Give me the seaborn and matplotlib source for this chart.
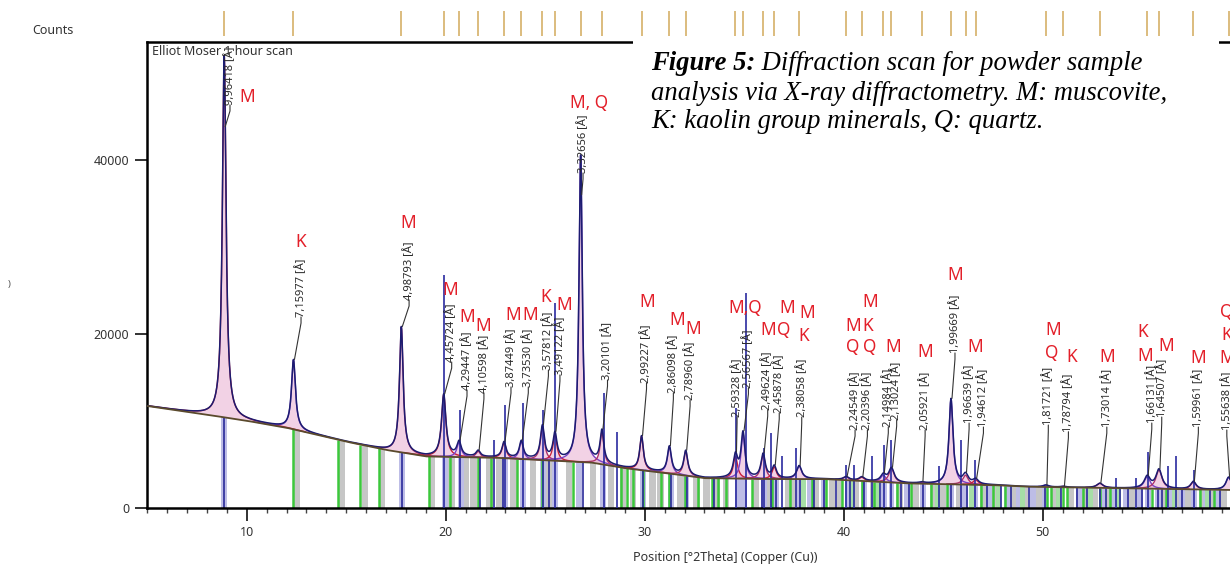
import numpy as np
import matplotlib
matplotlib.use("Agg")
import matplotlib.pyplot as plt
import seaborn as sns
from matplotlib.patches import Rectangle
from matplotlib.ticker import MultipleLocator
from matplotlib.transforms import blended_transform_factory

# ---------------- data ----------------
peak_2theta = [8.87, 12.35, 17.77, 19.90, 20.67, 21.63, 22.93, 23.80, 24.86, 25.49,
               26.78, 27.85, 29.84, 31.24, 32.06, 34.56, 34.94, 35.95, 36.51, 37.76,
               40.12, 40.91, 41.99, 42.40, 43.93, 45.39, 46.12, 46.63, 50.16, 51.04,
               52.87, 55.25, 55.84, 57.57, 59.34]
peak_counts = [52000, 17000, 20800, 13000, 7500, 6500, 7500, 7600, 9300, 8400,
               40500, 8700, 8200, 7000, 6500, 5900, 8500, 6100, 4700, 4800,
               3550, 3500, 3750, 4500, 2900, 12500, 3750, 3200, 2600, 2450,
               2800, 3550, 4350, 3000, 3500]
peak_fwhm = [0.22, 0.24, 0.22, 0.26, 0.26, 0.26, 0.24, 0.24, 0.24, 0.24,
             0.20, 0.22, 0.22, 0.24, 0.24, 0.26, 0.24, 0.26, 0.26, 0.30,
             0.32, 0.32, 0.32, 0.32, 0.32, 0.24, 0.32, 0.32, 0.32, 0.32,
             0.36, 0.36, 0.36, 0.32, 0.32]
d_spacing = ["9,96418", "7,15977", "4,98793", "4,45724", "4,29447", "4,10598",
             "3,87449", "3,73530", "3,57812", "3,49122", "3,32656", "3,20101",
             "2,99227", "2,86098", "2,78960", "2,59328", "2,56567", "2,49624",
             "2,45878", "2,38058", "2,24549", "2,20396", "2,14984", "2,13024",
             "2,05921", "1,99669", "1,96639", "1,94612", "1,81721", "1,78794",
             "1,73014", "1,66131", "1,64507", "1,59961", "1,55638"]

# background (2theta, counts)
bg_2theta = [5, 8, 10, 12, 15, 17, 19, 22.5, 25, 27.3, 29, 31, 33, 36, 39,
             41.5, 43.2, 47.5, 49.2, 54.2, 59.5]
bg_counts = [11700, 10700, 10000, 9200, 7600, 6650, 5900, 5750, 5450, 5200, 4550,
             4000, 3400, 3300, 3300, 3000, 2800, 2600, 2420, 2230, 2040]

# reference-pattern sticks
gray_sticks = [12.5, 14.8, 15.95, 16.8, 19.3, 20.3, 21.0, 21.4, 22.2, 22.7, 23.4,
               24.4, 25.2, 26.2, 27.4, 28.3, 28.9, 29.4, 30.4, 30.8, 31.8, 32.6,
               33.1, 33.6, 34.1, 35.6, 36.3, 37.2, 37.5, 38.6, 39.4, 39.8, 40.6,
               41.5, 42.8, 43.6, 44.5, 45.0, 45.8, 47.0, 47.6, 48.5, 49.1, 49.8,
               50.6, 51.4, 52.0, 52.6, 53.3, 54.5, 56.1, 56.8, 57.3, 58.0, 58.5, 59.1]
lav_sticks = [8.85, 17.8, 19.95, 20.75, 23.0, 23.9, 24.9, 25.5, 26.7, 27.9, 29.9,
              31.3, 32.1, 34.7, 35.0, 36.0, 36.6, 37.8, 38.3, 39.0, 40.2, 41.0,
              42.0, 42.4, 43.2, 44.0, 45.4, 46.1, 46.6, 47.3, 48.2, 48.8, 49.5,
              50.1, 51.8, 52.3, 53.0, 53.6, 54.2, 54.9, 55.3, 55.8, 56.5, 57.0,
              57.6, 58.2, 58.8]
lgreen_sticks = [38.0, 40.4, 41.7, 44.7, 46.4, 47.8, 49.0, 50.8, 52.4, 53.8, 56.6, 58.3]
green_sticks = [12.35, 14.6, 15.7, 16.66, 19.14, 20.2, 21.6, 22.26, 23.6, 24.86,
                26.4, 28.8, 29.1, 29.4, 29.9, 30.8, 31.2, 32.0, 32.7, 33.4, 33.7,
                34.1, 35.4, 36.4, 37.3, 38.4, 39.1, 39.9, 40.9, 41.5, 42.7, 43.4,
                44.4, 45.2, 46.9, 47.5, 48.1, 50.2, 50.4, 51.0, 51.2, 52.0, 52.9,
                53.4, 55.5, 56.2, 57.9, 58.6]
blue_low = [8.85, 17.8, 21.7, 22.9, 25.2, 26.9, 29.9, 31.3, 32.1, 33.5, 35.9, 36.6,
            37.8, 38.5, 39.0, 39.6, 40.3, 41.0, 41.8, 42.9, 43.3, 44.0, 45.4, 46.2,
            47.2, 47.9, 48.4, 49.3, 50.1, 50.9, 51.7, 52.2, 52.9, 53.2, 53.9, 54.3,
            55.0, 55.8, 56.0, 57.0, 58.4, 58.9]
blue_tall_2theta = [19.9, 20.7, 22.45, 23.0, 23.9, 24.9, 25.5, 27.95, 28.6, 34.6,
                    35.1, 36.0, 36.35, 36.9, 37.6, 40.1, 40.5, 41.4, 42.0, 42.4,
                    44.8, 45.9, 46.6, 53.7, 54.7, 55.3, 56.3, 56.7, 57.6]
blue_tall_counts = [26800, 11200, 7800, 11800, 12000, 11200, 23500, 13200, 8700, 11500,
                    24700, 6900, 8600, 5900, 6900, 4900, 4900, 5900, 7200, 7800,
                    4800, 7800, 5500, 3400, 3400, 6400, 4800, 5900, 4300]

# phase identification labels
phase_text = ["M", "K", "M", "M", "M", "M", "M", "M", "K", "M", "M, Q", "M", "M", "M",
              "M,Q", "M", "Q", "M", "M", "K", "M", "K", "M", "Q", "Q", "M", "M", "M",
              "M", "M", "Q", "K", "M", "K", "M", "M", "M", "Q", "K", "M"]

# ---------------- layout (annotation anchors, data coords) ----------------
label_x = [9.16, 12.73, 18.16, 20.30, 21.07, 21.92, 23.28, 24.15, 25.16, 25.74,
           26.90, 28.13, 30.09, 31.44, 32.28, 34.64, 35.21, 36.18, 36.76, 37.89,
           40.57, 41.19, 42.24, 42.66, 44.09, 45.59, 46.30, 47.02, 50.28, 51.29,
           53.22, 55.48, 55.98, 57.82, 59.25]
label_base = [46330, 21940, 23900, 16760, 13540, 13200, 13890, 13890, 15840, 15270,
              38500, 14690, 14350, 13200, 12390, 10430, 13770, 11240, 10890, 10430,
              8940, 8940, 9280, 10090, 8940, 17800, 9740, 9280, 9510, 8740,
              9280, 9740, 10430, 9280, 8940]
phase_x = [10.02, 12.71, 18.11, 20.25, 21.06, 21.87, 23.38, 24.24, 25.03, 25.94,
           27.20, 30.10, 31.61, 32.43, 35.04, 36.21, 37.00, 37.14, 38.17, 38.00,
           40.47, 41.19, 41.32, 40.45, 41.32, 42.49, 44.09, 45.59, 46.60, 50.53,
           50.45, 51.46, 53.22, 55.03, 55.14, 56.20, 57.82, 59.25, 59.25, 59.25]
phase_y = [47250, 30600, 32790, 25040, 21970, 20900, 22170, 22170, 24270, 23310,
           46560, 23700, 21590, 20560, 22940, 20440, 20440, 22940, 22360, 19750,
           20900, 20900, 23700, 18520, 18520, 18520, 17950, 26770, 18520, 20440,
           17760, 17370, 17370, 20250, 17450, 18600, 17190, 22550, 19870, 17190]

W, H = 1230, 567
sns.set_theme(style="ticks")
plt.rcParams['font.family'] = ['Noto Sans', 'DejaVu Sans']

fig = plt.figure(figsize=(W / 100, H / 100), dpi=100)
ax = fig.add_axes([147.2 / W, 59.3 / H, (W - 147.2) / W, 466.0 / H])

x = np.linspace(5, 59.5, 8000)
bg = np.interp(x, bg_2theta, bg_counts)
comp_colors = ['#c8203c', '#7b3fc4', '#b0306a']
components = []
for p, c, w in zip(peak_2theta, peak_counts, peak_fwhm):
    amp = c - np.interp(p, bg_2theta, bg_counts)
    components.append(amp / (1 + (2 * (x - p) / w) ** 2))
total = bg + np.sum(components, axis=0)

def bg_at(pos):
    return np.interp(pos, bg_2theta, bg_counts)

# sticks
ax.bar(gray_sticks, bg_at(gray_sticks), width=0.32, color='#c6c6c6', zorder=1, linewidth=0)
ax.bar(lav_sticks, bg_at(lav_sticks), width=0.30, color='#bdbde6', zorder=1, linewidth=0)
ax.bar(lgreen_sticks, bg_at(lgreen_sticks), width=0.25, color='#a6dea6', zorder=1, linewidth=0)
ax.vlines(green_sticks, 0, bg_at(green_sticks), color='#3cc83c', lw=1.8, zorder=1.5)
ax.vlines(blue_low, 0, bg_at(blue_low), color='#2a2a9a', lw=1.2, zorder=1.6)
ax.vlines(blue_tall_2theta, 0, blue_tall_counts, color='#2a2aa0', lw=1.2, zorder=3.5)

# fitted components
for i, comp in enumerate(components):
    m = comp > 30
    ax.fill_between(x[m], bg[m], bg[m] + comp[m], color='#e6a6cc', alpha=0.5, lw=0, zorder=2)
    ax.plot(x[m], bg[m] + comp[m], color=comp_colors[i % 3], lw=1.0, zorder=3)

# observed profile
sns.lineplot(x=x, y=total, ax=ax, color='#1c1c70', lw=1.1, estimator=None, zorder=4)
ax.plot(x, bg, color='#5a4a2c', lw=1.3, zorder=4.5)

# d-spacing labels with leaders
for d, p, lx, lb in zip(d_spacing, peak_2theta, label_x, label_base):
    top = np.interp(p, x, total)
    end = min(top, lb - 2500)
    ax.plot([lx, lx, p + 0.05], [lb, lb - 700, end], color='#333333', lw=0.8, zorder=5)
    ax.text(lx, lb, d + " [Å]", rotation=90, ha='center', va='bottom',
            fontsize=8, color='#2a2a2a', zorder=6)

for t, px_, py_ in zip(phase_text, phase_x, phase_y):
    ax.text(px_, py_, t, ha='center', va='center', fontsize=12.5, color='#e3202a', zorder=6)

# top reference ticks
tr = blended_transform_factory(ax.transData, ax.transAxes)
ax.vlines(peak_2theta, 1.012, 1.066, transform=tr, clip_on=False, color='#d6b068', lw=1.2)

ax.set_xlim(5, 59.41)
ax.set_ylim(0, 53600)
ax.set_xticks([10, 20, 30, 40, 50])
ax.set_yticks([0, 20000, 40000])
ax.xaxis.set_minor_locator(MultipleLocator(1))
ax.tick_params(axis='both', which='major', direction='out', length=9, width=1.3,
               color='#222222', labelsize=9, labelcolor='#333333', pad=4)
ax.tick_params(axis='x', which='minor', direction='out', length=3.5, width=1.0, color='#444444')
for s in ['left', 'bottom', 'top']:
    ax.spines[s].set_linewidth(1.8)
    ax.spines[s].set_color('black')
ax.spines['right'].set_visible(False)
ax.set_xlabel("")
ax.set_ylabel("")

ax.text(0.0045, 0.978, "Elliot Moser 1 hour scan", transform=ax.transAxes,
        fontsize=9, color='#333333', va='center', ha='left', zorder=7)
fig.text(32 / W, 1 - 30 / H, "Counts", fontsize=9, color='#333333', va='center', ha='left')
fig.text(8 / W, 1 - 285 / H, ")", fontsize=7, color='#555555', va='center', ha='left')
fig.text(725 / W, 1 - 558 / H, "Position [°2Theta] (Copper (Cu))", fontsize=9,
         color='#333333', ha='center', va='center')

# caption box
fig.patches.append(Rectangle((633 / W, 1 - 140 / H), (1219 - 633) / W, 102 / H,
                             transform=fig.transFigure, facecolor='white',
                             edgecolor='none', zorder=5))
r = fig.canvas.get_renderer()
cap_font = dict(family='Liberation Serif', style='italic', fontsize=19.2, va='baseline',
                ha='left', color='black', zorder=6)
t1 = fig.text(651 / W, 1 - 70 / H, "Figure 5:", weight='bold', **cap_font)
bb = t1.get_window_extent(r)
fig.text(bb.x1 / W, 1 - 70 / H, " Diffraction scan for powder sample", **cap_font)
fig.text(651 / W, 1 - 100 / H, "analysis via X-ray diffractometry. M: muscovite,", **cap_font)
fig.text(651 / W, 1 - 128 / H, "K: kaolin group minerals, Q: quartz.", **cap_font)

fig.savefig("out.png", dpi=100)
